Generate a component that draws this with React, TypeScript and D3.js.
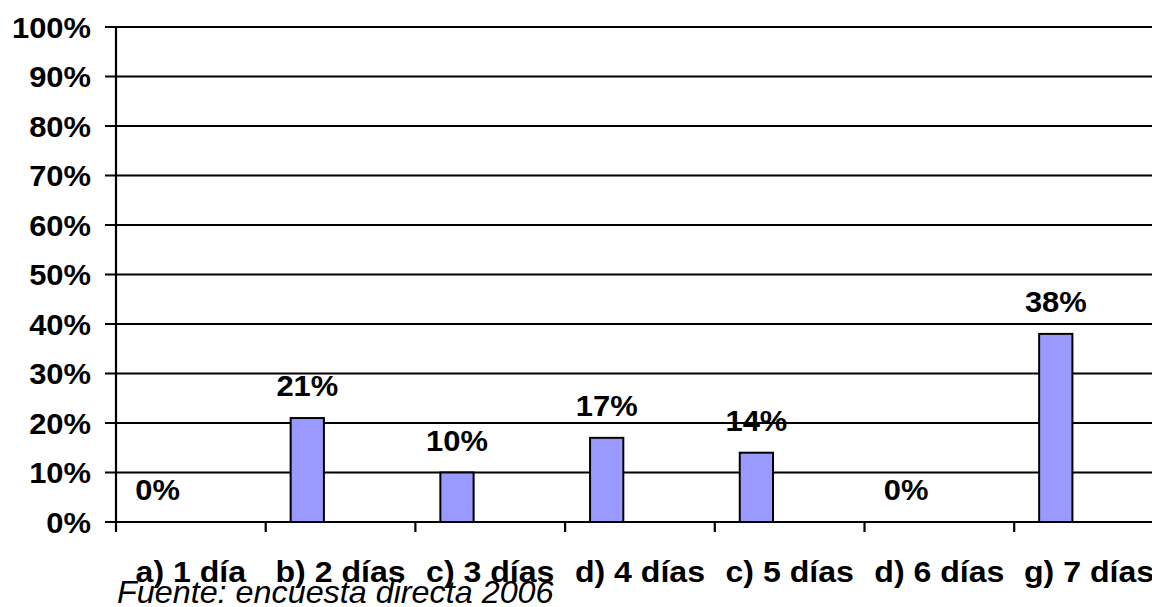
import React from 'react'
import * as d3 from 'd3'

// survey answers: days per week
const categories = ['a) 1 día', 'b) 2 días', 'c) 3 días', 'd) 4 días', 'c) 5 días', 'd) 6 días', 'g) 7 días']
const values = [0, 21, 10, 17, 14, 0, 38]
const yTicks = [0, 10, 20, 30, 40, 50, 60, 70, 80, 90, 100]
const sourceNote = 'Fuente: encuesta directa 2006'

const width = 1152
const height = 607
const marginLeft = 116
const marginTop = 27
const plotBottom = 522
const bandStep = 149.7

// the original text is a bit wider than Liberation Sans, stretch it horizontally
function WideText({ x, y, anchor, size, sx = 1.08, italic = false, bold = true, children }:
  { x: number, y: number, anchor: string, size: number, sx?: number, italic?: boolean, bold?: boolean, children: any }) {
  return (
    <text transform={`translate(${x},${y}) scale(${sx},1)`} textAnchor={anchor}
      fontSize={size} fontWeight={bold ? 'bold' : 'normal'} fontStyle={italic ? 'italic' : 'normal'}>
      {children}
    </text>
  )
}

export default function App() {
  const font = '"Liberation Sans", Arial, sans-serif'

  // x: one band per category (chart runs past the right edge, like the original)
  const xScale = d3.scaleBand<string>()
    .domain(categories)
    .range([marginLeft, marginLeft + bandStep * categories.length])
    .paddingInner(0)
    .paddingOuter(0)

  // inner band: three series slots, only the first one carries data
  const slot = d3.scaleBand<string>()
    .domain(['s1', 's2', 's3'])
    .range([0, xScale.bandwidth()])
    .paddingOuter(0.75)
    .paddingInner(0)

  const yScale = d3.scaleLinear()
    .domain([0, 100])
    .range([plotBottom, marginTop])

  const fmt = (v: number) => `${v}%`
  const tickEdges = categories.map(c => xScale(c) as number)

  return (
    <svg width={width} height={height}
      style={{ position: 'absolute', left: 0, top: 0, background: '#fff' }}
      fontFamily={font}>
      {/* gridlines + y ticks */}
      <g stroke="#000" strokeWidth={2.2}>
        {yTicks.map(t => (
          <line key={t} x1={105} x2={width} y1={yScale(t)} y2={yScale(t)} />
        ))}
      </g>

      {/* y axis line */}
      <line x1={marginLeft} x2={marginLeft} y1={marginTop} y2={plotBottom + 10} stroke="#000" strokeWidth={2.2} />

      {/* x ticks at band edges */}
      <g stroke="#000" strokeWidth={2.2}>
        {tickEdges.slice(1).map((x, i) => (
          <line key={i} x1={x} x2={x} y1={plotBottom} y2={plotBottom + 10} />
        ))}
      </g>

      {/* y labels */}
      {yTicks.map(t => (
        <WideText key={t} x={91} y={yScale(t) + 10.5} anchor="end" size={30} sx={1.03}>{fmt(t)}</WideText>
      ))}

      {/* bars */}
      <g fill="#9999FF" stroke="#000" strokeWidth={2}>
        {values.map((v, i) => v > 0 && (
          <rect key={i}
            x={(xScale(categories[i]) as number) + (slot('s1') as number)}
            y={yScale(v)}
            width={slot.bandwidth()}
            height={plotBottom - yScale(v)} />
        ))}
      </g>

      {/* value labels */}
      {values.map((v, i) => (
        <WideText key={i}
          x={(xScale(categories[i]) as number) + (slot('s1') as number) + slot.bandwidth() / 2}
          y={yScale(v) - 22} anchor="middle" size={30} sx={1.03}>{fmt(v)}</WideText>
      ))}

      {/* category labels */}
      {categories.map(c => (
        <WideText key={c} x={(xScale(c) as number) + xScale.bandwidth() / 2} y={582}
          anchor="middle" size={30} sx={1.07}>{c}</WideText>
      ))}

      <WideText x={117} y={603} anchor="start" size={32} sx={1.01} bold={false} italic>{sourceNote}</WideText>
    </svg>
  )
}
